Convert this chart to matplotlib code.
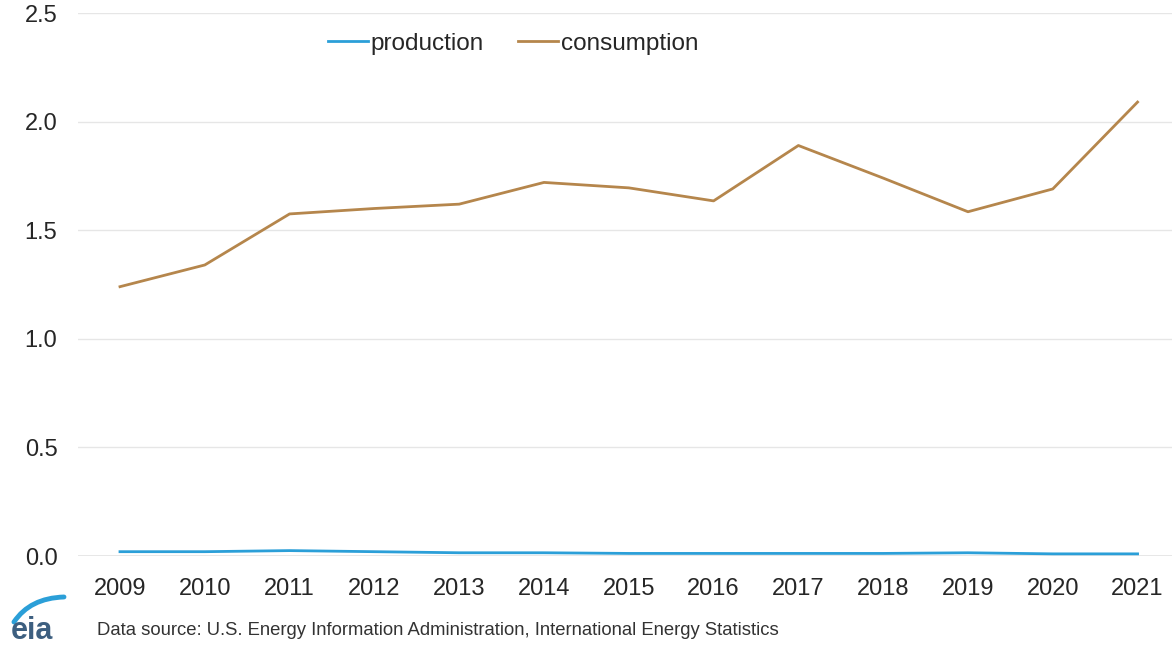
import numpy as np
import matplotlib.pyplot as plt
from matplotlib.path import Path
from matplotlib.patches import PathPatch

plt.rcParams['font.family'] = ['Liberation Sans', 'DejaVu Sans']

# data
years = ['2009', '2010', '2011', '2012', '2013', '2014', '2015',
         '2016', '2017', '2018', '2019', '2020', '2021']
production = [0.020, 0.020, 0.025, 0.020, 0.015, 0.015, 0.012,
              0.012, 0.012, 0.012, 0.015, 0.010, 0.010]
consumption = [1.24, 1.34, 1.575, 1.60, 1.62, 1.72, 1.695,
               1.635, 1.89, 1.74, 1.585, 1.69, 2.09]
yticks = [0.0, 0.5, 1.0, 1.5, 2.0, 2.5]

fig = plt.figure(figsize=(11.72, 6.47), dpi=100)
ax = fig.add_axes([0.0662, 0.1406, 0.9406, 0.8393])

x = np.arange(len(years))
ax.plot(x, production, color='#2b9fd8', lw=2.0, label='production')
ax.plot(x, consumption, color='#b5864c', lw=2.0, label='consumption')

ax.set_xlim(-0.5, len(years) - 0.5)
ax.set_ylim(0, 2.5)
ax.set_xticks(x)
ax.set_xticklabels(years)
ax.set_yticks(yticks)
ax.set_yticklabels([f'{v:.1f}' for v in yticks])
ax.tick_params(axis='both', length=0, labelsize=17, colors='#262626')
ax.tick_params(axis='y', pad=14.5)
ax.tick_params(axis='x', pad=15.5)

for s in ax.spines.values():
    s.set_visible(False)
ax.grid(axis='y', color='#e6e6e6', lw=1.0)
ax.axhline(0, color='#9a9a9a', lw=1.0, zorder=1)
ax.set_axisbelow(True)

leg = ax.legend(loc='center left', bbox_to_anchor=(0.227, 0.943), ncol=2,
                frameon=False, fontsize=17.5, handlelength=1.65,
                handletextpad=0.12, columnspacing=1.4,
                borderpad=0, borderaxespad=0)
for t in leg.get_texts():
    t.set_color('#262626')

# footer
fig.text(0.0828, 0.0185, 'Data source: U.S. Energy Information Administration, '
         'International Energy Statistics', fontsize=13.3, color='#333333',
         va='baseline', ha='left')
fig.text(0.0095, 0.012, 'eia', fontsize=22, color='#3d5f80', va='baseline',
         ha='left', fontweight='bold')
# eia logo swoosh
swoosh = Path([(0.0119, 0.0386), (0.0256, 0.0757), (0.0546, 0.0773)],
              [Path.MOVETO, Path.CURVE3, Path.CURVE3])
fig.add_artist(PathPatch(swoosh, transform=fig.transFigure, fill=False,
                         edgecolor='#2b9fd8', lw=3.5, capstyle='round'))

fig.savefig('out.png', dpi=100)
